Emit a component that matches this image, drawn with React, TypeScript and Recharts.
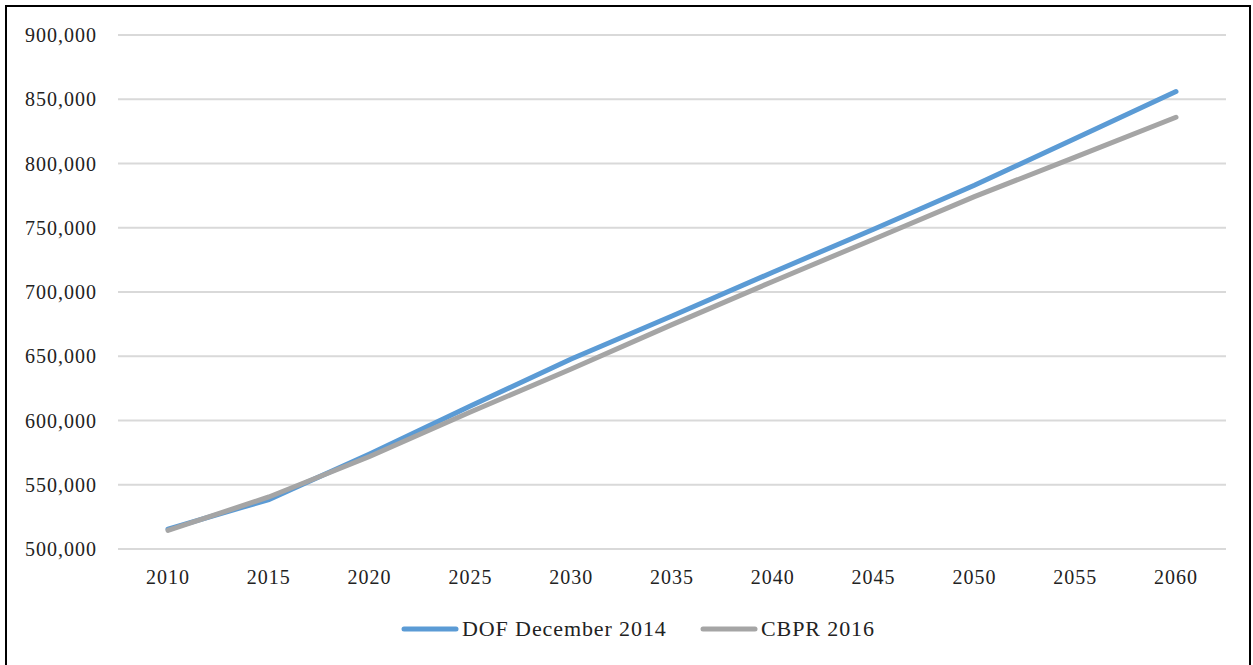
import React from "react";
import { LineChart, Line, XAxis, YAxis, CartesianGrid } from "recharts";

const years = ["2010", "2015", "2020", "2025", "2030", "2035", "2040", "2045", "2050", "2055", "2060"];
const dofDec2014 = [515500, 538500, 574000, 611300, 647900, 681300, 715400, 748800, 783000, 819500, 856000];
const cbpr2016 = [514500, 540500, 572000, 606600, 640100, 674600, 708200, 741100, 774200, 805000, 836000];
const yTicks = [500000, 550000, 600000, 650000, 700000, 750000, 800000, 850000, 900000];
const seriesNames = ["DOF December 2014", "CBPR 2016"];
const seriesColors = ["#5B9BD5", "#A5A5A5"];

const data = years.map((y, i) => ({ year: y, dof: dofDec2014[i], cbpr: cbpr2016[i] }));

const FONT = "'Liberation Serif', 'Times New Roman', serif";

export default function App() {
  const tickStyle = { fontFamily: FONT, fontSize: 20, fill: "#222", letterSpacing: 1 };
  return (
    <div style={{ position: "absolute", left: 0, top: 0, width: 1253, height: 665, overflow: "hidden", background: "#fff" }}>
      <div
        style={{
          position: "absolute",
          left: 5,
          top: 5,
          width: 1246,
          height: 680,
          border: "2px solid #000",
          boxSizing: "border-box",
        }}
      />
      <div style={{ position: "absolute", left: 0, top: 0 }}>
        <LineChart width={1253} height={665} data={data} margin={{ top: 35, right: 27, left: 0, bottom: 86 }}>
          <CartesianGrid vertical={false} stroke="#D9D9D9" strokeWidth={1.8} />
          <XAxis
            dataKey="year"
            padding={{ left: 50, right: 50 }}
            axisLine={{ stroke: "#D9D9D9", strokeWidth: 1.8 }}
            tickLine={false}
            tickSize={0}
            tickMargin={21}
            height={30}
            tick={tickStyle}
            interval={0}
          />
          <YAxis
            width={118}
            domain={[500000, 900000]}
            ticks={yTicks}
            axisLine={false}
            tickLine={false}
            tickSize={0}
            tickMargin={21}
            tick={tickStyle}
            tickFormatter={(v: number) => v.toLocaleString("en-US")}
          />
          <Line
            type="linear"
            dataKey="dof"
            name={seriesNames[0]}
            stroke={seriesColors[0]}
            strokeWidth={5}
            strokeLinecap="round"
            dot={false}
            isAnimationActive={false}
          />
          <Line
            type="linear"
            dataKey="cbpr"
            name={seriesNames[1]}
            stroke={seriesColors[1]}
            strokeWidth={5}
            strokeLinecap="round"
            dot={false}
            isAnimationActive={false}
          />
        </LineChart>
      </div>
      {seriesNames.map((name, i) => (
        <div
          key={name}
          style={{
            position: "absolute",
            left: i === 0 ? 401 : 700,
            top: 615,
            height: 28,
            display: "flex",
            alignItems: "center",
            fontFamily: FONT,
            fontSize: 22,
            letterSpacing: 0.9,
            color: "#222",
            whiteSpace: "nowrap",
          }}
        >
          <svg width={58} height={10} style={{ marginRight: 3 }}>
            <line x1={3} y1={5} x2={55} y2={5} stroke={seriesColors[i]} strokeWidth={5} strokeLinecap="round" />
          </svg>
          <span>{name}</span>
        </div>
      ))}
    </div>
  );
}
